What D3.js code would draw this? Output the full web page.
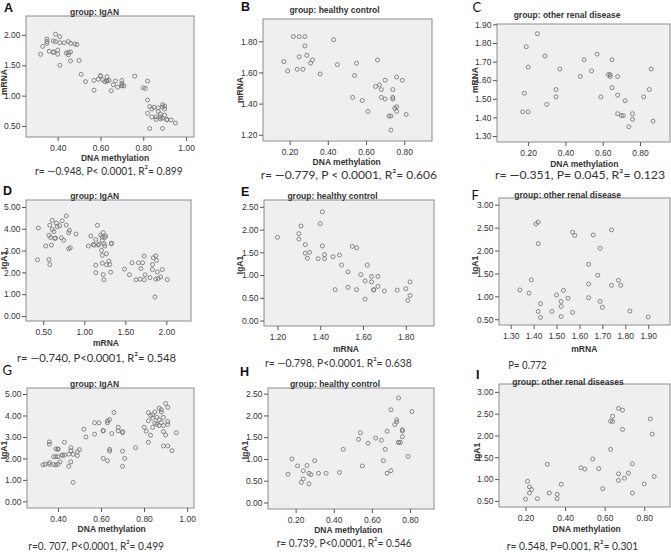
<!DOCTYPE html>
<html><head><meta charset="utf-8">
<script src="https://cdn.jsdelivr.net/npm/d3@7"></script>
<style>
html,body{margin:0;padding:0;background:#fff;}
svg{display:block;}
</style></head>
<body>
<svg id="c" width="671" height="552"></svg>
<script>
// ---------- DATA ----------
const aX = [0.32,0.33,0.35,0.35,0.35,0.36,0.38,0.38,0.38,0.39,0.39,0.40,0.40,0.41,0.41,0.41,0.43,0.44,0.45,0.45,0.45,0.46,0.46,0.46,0.48,0.49,0.50,
  0.51,0.53,0.57,0.57,0.59,0.60,0.60,0.61,0.62,0.63,0.63,0.63,0.64,0.65,0.66,0.67,0.68,0.70,0.70,0.70,0.70,0.71,0.76,0.80,0.81,
  0.82,0.82,0.83,0.82,0.83,0.84,0.84,0.85,0.86,0.86,0.87,0.87,0.88,0.88,0.89,0.89,0.89,0.89,0.90,0.90,0.90,0.91,0.91,0.93,0.95,0.88];
const aY = [1.68,1.81,1.93,1.89,1.86,1.73,1.71,1.90,1.72,1.89,2.01,1.68,1.75,1.87,1.97,1.50,1.87,1.70,1.67,1.71,1.89,1.57,1.86,1.72,1.85,1.84,1.58,
  1.35,1.23,1.09,1.25,1.27,1.33,1.32,1.26,1.23,1.24,1.31,1.24,1.25,1.08,1.18,1.24,1.14,1.16,1.25,1.20,1.17,1.16,1.32,1.13,1.12,
  1.24,0.93,0.82,0.71,0.46,0.65,0.78,0.81,0.61,0.65,0.74,0.80,0.70,0.65,0.46,0.63,0.81,0.85,0.78,0.83,0.68,0.60,0.61,0.60,0.55,0.62];

const bX = [0.17,0.19,0.22,0.24,0.25,0.25,0.27,0.28,0.28,0.29,0.31,0.32,0.36,0.43,0.45,0.53,0.54,0.55,0.58,0.61,0.65,0.66,0.67,0.68,0.68,0.70,0.70,0.72,0.73,0.73,0.74,0.74,0.74,0.75,0.76,0.76,0.76,0.79,0.81];
const bY = [1.67,1.61,1.83,1.62,1.83,1.70,1.62,1.83,1.77,1.71,1.66,1.68,1.59,1.81,1.65,1.44,1.58,1.66,1.42,1.35,1.51,1.68,1.52,1.44,1.49,1.43,1.55,1.32,1.32,1.23,1.49,1.44,1.43,1.37,1.38,1.57,1.35,1.55,1.33];

const cX = [0.17,0.18,0.19,0.20,0.20,0.25,0.29,0.30,0.35,0.35,0.37,0.48,0.50,0.54,0.57,0.59,0.63,0.64,0.64,0.65,0.65,0.68,0.68,0.68,0.70,0.71,0.72,0.74,0.76,0.76,0.82,0.85,0.86,0.87];
const cY = [1.43,1.53,1.78,1.43,1.67,1.85,1.73,1.47,1.55,1.51,1.66,1.62,1.71,1.65,1.74,1.51,1.63,1.63,1.62,1.71,1.56,1.62,1.52,1.42,1.41,1.41,1.49,1.35,1.42,1.39,1.51,1.55,1.66,1.38];

const dX = [0.43,0.44,0.53,0.57,0.57,0.58,0.58,0.59,0.60,0.61,0.61,0.63,0.64,0.65,0.66,0.67,0.70,0.72,0.73,0.75,0.78,0.78,0.81,0.81,0.82,0.83,0.90,
  1.05,1.08,1.11,1.12,1.14,1.14,1.14,1.16,1.17,1.18,1.20,1.21,1.22,1.22,1.22,1.22,1.23,1.23,1.24,1.24,1.25,1.25,1.26,1.27,1.27,1.30,1.31,1.32,1.33,1.33,
  1.49,1.55,1.58,1.63,1.66,1.68,1.69,1.71,1.73,1.73,1.74,1.80,1.83,1.83,1.84,1.86,1.87,1.87,1.88,1.89,1.90,1.93,1.95,2.01];
const dY = [2.58,4.03,3.21,3.70,2.59,2.36,4.17,3.60,3.25,4.39,3.97,3.87,3.56,3.57,4.26,4.10,4.14,3.59,4.37,3.47,4.59,4.17,3.82,3.08,3.93,3.13,3.76,
  3.21,3.67,3.28,3.25,3.50,2.33,1.99,4.16,3.25,3.30,3.71,3.01,3.62,3.47,2.42,2.78,3.82,1.90,1.66,3.31,3.21,3.60,3.67,2.35,2.85,2.52,2.36,2.01,3.34,3.31,
  2.15,1.89,2.44,1.66,2.44,1.69,2.18,2.44,1.66,2.75,1.89,1.76,2.13,2.36,2.67,0.87,1.69,2.76,2.55,2.02,1.72,1.79,2.13,1.67];

const eX = [1.20,1.30,1.30,1.31,1.33,1.33,1.34,1.35,1.39,1.40,1.41,1.41,1.42,1.42,1.46,1.47,1.49,1.50,1.53,1.53,1.55,1.57,1.57,1.59,1.61,1.61,1.62,1.64,1.64,1.65,1.65,1.67,1.67,1.70,1.76,1.80,1.81,1.82,1.82];
const eY = [1.83,1.79,1.91,2.08,1.67,1.48,1.37,1.50,1.36,2.13,2.39,1.64,1.45,1.36,1.40,0.68,1.44,1.22,1.07,0.73,1.63,1.60,0.68,1.01,0.87,0.47,1.22,0.97,0.85,0.68,0.67,0.97,0.75,0.65,0.67,0.70,0.44,0.85,0.55];

const fX = [1.34,1.38,1.39,1.41,1.42,1.42,1.42,1.43,1.43,1.48,1.50,1.52,1.52,1.52,1.53,1.55,1.57,1.57,1.58,1.66,1.64,1.64,1.64,1.68,1.69,1.69,1.70,1.74,1.74,1.77,1.78,1.82,1.90];
const fY = [1.14,1.07,1.36,2.58,2.62,2.15,0.67,0.84,0.54,0.67,1.03,0.89,0.78,0.56,1.13,0.96,2.40,0.65,2.33,2.34,1.70,1.27,0.97,1.46,2.05,0.89,0.76,2.45,1.24,1.35,1.24,0.68,0.55];

const gX = [0.33,0.34,0.36,0.36,0.36,0.36,0.38,0.38,0.39,0.39,0.39,0.40,0.40,0.40,0.40,0.41,0.42,0.42,0.43,0.43,0.45,0.45,0.46,0.46,0.46,0.47,0.47,0.49,0.49,0.50,
  0.52,0.53,0.57,0.57,0.59,0.61,0.61,0.61,0.63,0.63,0.63,0.64,0.64,0.64,0.65,0.66,0.68,0.68,0.70,0.70,0.70,0.70,0.71,0.76,
  0.80,0.81,0.82,0.82,0.82,0.83,0.83,0.84,0.84,0.84,0.85,0.85,0.86,0.86,0.87,0.87,0.87,0.88,0.88,0.88,0.89,0.89,0.89,0.89,0.90,0.90,0.91,0.91,0.91,0.91,0.93,0.95];
const gY = [1.70,1.73,1.72,1.80,2.77,2.66,2.08,1.72,2.08,2.44,1.69,2.42,1.73,2.08,2.44,1.84,2.16,2.14,2.75,2.16,1.63,2.20,2.50,2.36,1.84,2.19,0.88,2.31,2.13,2.41,
  3.36,3.00,3.13,3.66,3.66,3.30,2.00,3.28,3.66,1.89,3.75,3.81,2.42,2.34,3.16,4.14,3.45,3.28,3.25,3.20,2.34,1.63,2.00,2.50,
  3.45,3.27,2.75,4.13,3.75,3.08,4.00,3.45,4.03,3.88,4.16,3.64,3.59,3.91,3.53,4.34,3.80,4.27,4.16,3.67,3.91,3.25,2.58,3.53,4.56,3.09,2.58,4.38,3.72,3.59,2.36,3.20];

const hX = [0.16,0.18,0.21,0.23,0.24,0.24,0.26,0.27,0.27,0.28,0.30,0.32,0.36,0.43,0.45,0.53,0.54,0.55,0.58,0.62,0.65,0.66,0.67,0.68,0.68,0.70,0.70,0.72,0.73,0.73,0.74,0.74,0.74,0.75,0.76,0.76,0.76,0.79,0.81];
const hY = [0.65,1.00,0.84,0.46,0.73,0.54,0.85,0.43,0.67,0.64,0.96,0.67,0.67,0.69,1.22,1.45,1.60,0.84,1.36,1.48,1.43,0.96,1.22,1.64,0.67,0.73,2.13,1.79,1.90,1.85,1.38,2.40,1.38,1.38,1.51,1.64,1.67,1.06,2.09];

const iX = [0.20,0.21,0.22,0.22,0.23,0.26,0.31,0.32,0.36,0.36,0.38,0.48,0.50,0.54,0.57,0.59,0.63,0.63,0.64,0.64,0.67,0.67,0.67,0.69,0.69,0.70,0.72,0.74,0.74,0.80,0.83,0.84,0.85];
const iY = [0.54,0.95,0.82,0.68,0.76,0.55,1.34,0.68,0.65,0.55,0.88,1.26,1.23,1.46,1.24,0.78,2.33,1.68,2.44,2.32,2.62,1.12,0.97,2.58,2.14,1.02,1.14,1.35,0.68,0.89,2.38,2.03,1.06];

const methTicks = [0.2,0.4,0.6,0.8];
const methTicksA = [0.4,0.6,0.8,1.0];
const mrnaTicksA = [0.5,1.0,1.5,2.0];
const mrnaTicksB = [1.2,1.4,1.6,1.8];
const mrnaTicksC = [1.3,1.4,1.5,1.6,1.7,1.8,1.9];
const iga5Ticks = [0,1,2,3,4,5];
const iga25Ticks = [0,0.5,1.0,1.5,2.0,2.5];
const iga3Ticks = [0.5,1.0,1.5,2.0,2.5,3.0];
const mrnaTicksD = [0.5,1.0,1.5,2.0];
const mrnaTicksE = [1.2,1.4,1.6,1.8];
const mrnaTicksF = [1.3,1.4,1.5,1.6,1.7,1.8,1.9];

const titles = ["group: IgAN","group: healthy control","group: other renal disease",
                "group: IgAN","group: healthy control","group: other renal disease",
                "group: IgAN","group: healthy control","group: other renal diseases"];
const letters = ["A","B","C","D","E","F","G","H","I"];
const xTitles = ["DNA methylation","DNA methylation","DNA methylation","mRNA","mRNA","mRNA","DNA methylation","DNA methylation","DNA methylation"];
const yTitles = ["mRNA","mRNA","mRNA","IgA1","IgA1","IgA1","IgA1","IgA1","IgA1"];
const stats = ["r= \u20140.948, P< 0.0001, R\u00b2= 0.899",
               "r= \u20140.779, P < 0.0001, R\u00b2= 0.606",
               "r= \u20140.351, P= 0.045, R\u00b2= 0.123",
               "r= \u20140.740, P<0.0001, R\u00b2= 0.548",
               "r= \u20140.798, P<0.0001, R\u00b2= 0.638",
               "P= 0.772",
               "r=0. 707, P<0.0001, R\u00b2= 0.499",
               "r= 0.739, P<0.0001, R\u00b2= 0.546",
               "r= 0.548, P=0.001,  R\u00b2= 0.301"];

// ---------- LAYOUT ----------
const panels = [
  {xs:aX, ys:aY, fx:[26,194], fy:[16,137], dx:[0.252,1.037], dy:[0.32,2.31], xt:methTicksA, yt:mrnaTicksA,
   title:[94.5,15], xl:[115,160.5], yl:[4,82], st:[35,182.7,174.5], let:[4,11.5,true]},
  {xs:bX, ys:bY, fx:[263,432], fy:[19,141], dx:[0.061,0.945], dy:[1.16,1.943], xt:methTicks, yt:mrnaTicksB,
   title:[334.5,13], xl:[346.7,164.5], yl:[240,90], st:[260.7,437,178.5], let:[241,10.5,true]},
  {xs:cX, ys:cY, fx:[497,670], fy:[24,142], dx:[0.033,0.961], dy:[1.268,1.902], xt:methTicks, yt:mrnaTicksC,
   title:[567,18], xl:[584.3,166.5], yl:[475,80], st:[495,665,179], let:[472.5,11.5,false]},
  {xs:dX, ys:dY, fx:[26,191], fy:[200,321], dx:[0.29,2.30], dy:[-0.23,5.32], xt:mrnaTicksD, yt:iga5Ticks,
   title:[94.7,199], xl:[106,346], yl:[4,260], st:[17,176,362], let:[3,194.5,true]},
  {xs:eX, ys:eY, fx:[264,434], fy:[200,326], dx:[1.137,1.932], dy:[-0.12,2.65], xt:mrnaTicksE, yt:iga25Ticks,
   title:[332.5,199], xl:[346,352], yl:[240,265], st:[265,411.7,366.5], let:[241,196,true]},
  {xs:fX, ys:fY, fx:[499,670], fy:[198,325], dx:[1.249,1.995], dy:[0.375,3.146], xt:mrnaTicksF, yt:iga3Ticks,
   title:[567.7,197.5], xl:[584.3,352], yl:[475,265], st:[508.3,546.7,368.5], let:[471.5,200,false]},
  {xs:gX, ys:gY, fx:[27,194], fy:[388,508], dx:[0.256,1.032], dy:[-0.31,5.28], xt:methTicksA, yt:iga5Ticks,
   title:[94.5,387], xl:[111.7,531.5], yl:[4,450], st:[28.3,164,549.5], let:[2.5,374.5,false]},
  {xs:hX, ys:hY, fx:[268,434], fy:[388,509], dx:[0.055,0.926], dy:[-0.15,2.63], xt:methTicks, yt:iga25Ticks,
   title:[335,387], xl:[348.3,532.5], yl:[245,450], st:[276.7,411.7,547], let:[240,376,true]},
  {xs:iX, ys:iY, fx:[499,670], fy:[384,507], dx:[0.066,0.930], dy:[0.36,3.18], xt:methTicks, yt:iga3Ticks,
   title:[568,384.5], xl:[586.7,531.5], yl:[477,452], st:[506.7,638.3,549.5], let:[476,378.5,true]}
];

const svg = d3.select("#c");
const fmt = d3.format(".2f");
const SANS = "Arial, 'Liberation Sans', sans-serif";
const HUM = "Lato, 'Open Sans', sans-serif";

panels.forEach((p, i) => {
  const x = d3.scaleLinear().domain(p.dx).range(p.fx);
  const y = d3.scaleLinear().domain(p.dy).range([p.fy[1], p.fy[0]]);
  const g = svg.append("g");

  g.append("rect").attr("x", p.fx[0]).attr("y", p.fy[0])
    .attr("width", p.fx[1]-p.fx[0]).attr("height", p.fy[1]-p.fy[0])
    .attr("fill", "#efefef").attr("stroke", "#8c8c8c").attr("stroke-width", 1);

  const xa = g.append("g").attr("transform", `translate(0,${p.fy[1]})`)
    .call(d3.axisBottom(x).tickValues(p.xt).tickFormat(fmt).tickSize(4).tickSizeOuter(0).tickPadding(4));
  const ya = g.append("g").attr("transform", `translate(${p.fx[0]},0)`)
    .call(d3.axisLeft(y).tickValues(p.yt).tickFormat(fmt).tickSize(4).tickSizeOuter(0).tickPadding(1.5));
  [xa, ya].forEach(a => {
    a.select(".domain").remove();
    a.selectAll("line").attr("stroke", "#555");
    a.selectAll("text").attr("font-family", SANS).attr("font-size", 8.5).attr("fill", "#333");
  });

  g.selectAll("circle.pt").data(p.xs.map((v, k) => [v, p.ys[k]])).enter()
    .append("circle").attr("class", "pt")
    .attr("cx", d => x(d[0])).attr("cy", d => y(d[1])).attr("r", 2)
    .attr("fill", "none").attr("stroke", "#7a7a7a").attr("stroke-width", 0.9);

  g.append("text").attr("x", p.title[0]).attr("y", p.title[1]).attr("text-anchor", "middle")
    .attr("font-family", SANS).attr("font-weight", "bold").attr("font-size", 8.5).attr("fill", "#333")
    .text(titles[i]);

  g.append("text").attr("x", p.xl[0]).attr("y", p.xl[1]).attr("text-anchor", "middle")
    .attr("font-family", SANS).attr("font-weight", "bold").attr("font-size", 8.5).attr("fill", "#333")
    .text(xTitles[i]);

  g.append("text").attr("transform", `translate(${p.yl[0]+3},${p.yl[1]}) rotate(-90)`)
    .attr("text-anchor", "middle")
    .attr("font-family", SANS).attr("font-weight", "bold").attr("font-size", 8.5).attr("fill", "#333")
    .text(yTitles[i]);

  g.append("text").attr("x", p.st[0]).attr("y", p.st[2])
    .attr("textLength", p.st[1]-p.st[0]).attr("lengthAdjust", "spacingAndGlyphs")
    .attr("font-family", HUM).attr("font-size", 12).attr("fill", "#333")
    .text(stats[i]);

  g.append("text").attr("x", p.let[0]).attr("y", p.let[1])
    .attr("font-family", p.let[2] ? SANS : HUM)
    .attr("font-weight", p.let[2] ? "bold" : "normal")
    .attr("font-size", p.let[2] ? 12.5 : 13).attr("fill", "#111")
    .text(letters[i]);
});
</script>
</body></html>
